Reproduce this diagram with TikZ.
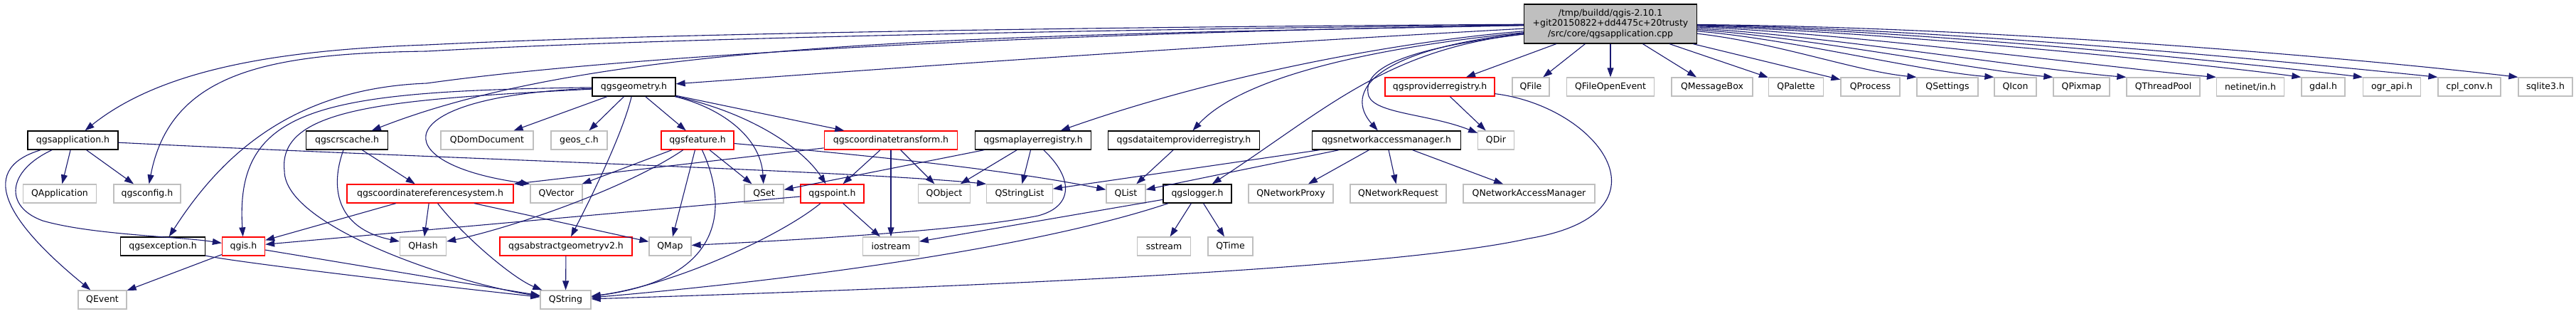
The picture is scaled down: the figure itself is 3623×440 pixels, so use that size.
\documentclass[tikz,border=0pt]{standalone}
\usepackage{fontspec}
\setmainfont{DejaVu Sans}
\usepackage{tikz}
\usetikzlibrary{arrows.meta}
\definecolor{depblue}{RGB}{25, 25, 112}
\definecolor{extgray}{RGB}{191, 191, 191}
\definecolor{srcgray}{RGB}{191, 191, 191}

\begin{document}
\begin{tikzpicture}[
        x=1pt, y=-1pt,
        hdr/.style={draw=black, fill=white, line width=1.3pt, minimum height=26pt, inner sep=0pt, font=\fontsize{12.5}{14}\selectfont},
        trunc/.style={hdr, draw=red},
        ext/.style={hdr, draw=extgray},
        srcfile/.style={hdr, fill=srcgray, minimum height=55pt, align=center, font=\fontsize{12.5}{14.7}\selectfont},
        dep/.style={draw=depblue, line width=1.1pt, -{Triangle[length=13pt,width=9pt]}}
    ]
        % Canvas
        \fill[white] (0,0) rectangle (3623,440);
        \useasboundingbox (0,0) rectangle (3623,440);

        % Source file
        \node[srcfile, minimum width=243pt] (main) at (2265,33.5) {/tmp/buildd/qgis-2.10.1\\+git20150822+dd4475c+20trusty\\/src/core/qgsapplication.cpp};

        % Rank 1
        \node[hdr, minimum width=117pt] (geometry) at (891.5,122) {qgsgeometry.h};
        \node[trunc, minimum width=154pt] (provreg) at (2025,122) {qgsproviderregistry.h};
        \node[ext, minimum width=52pt] (qfile) at (2153,122) {QFile};
        \node[ext, minimum width=123pt] (qfileopenevent) at (2265,122) {QFileOpenEvent};
        \node[ext, minimum width=114pt] (qmessagebox) at (2408,122) {QMessageBox};
        \node[ext, minimum width=77pt] (qpalette) at (2526,122) {QPalette};
        \node[ext, minimum width=83pt] (qprocess) at (2630.5,122) {QProcess};
        \node[ext, minimum width=86pt] (qsettings) at (2739,122) {QSettings};
        \node[ext, minimum width=59pt] (qicon) at (2834.5,122) {QIcon};
        \node[ext, minimum width=79pt] (qpixmap) at (2927.5,122) {QPixmap};
        \node[ext, minimum width=103pt] (qthreadpool) at (3042.5,122) {QThreadPool};
        \node[ext, minimum width=95pt] (netinet) at (3165,122) {netinet/in.h};
        \node[ext, minimum width=61pt] (gdal) at (3267.5,122) {gdal.h};
        \node[ext, minimum width=81pt] (ograpi) at (3364,122) {ogr\_api.h};
        \node[ext, minimum width=88pt] (cplconv) at (3473,122) {cpl\_conv.h};
        \node[ext, minimum width=76pt] (sqlite) at (3580,122) {sqlite3.h};

        % Rank 2
        \node[hdr, minimum width=127pt] (app) at (102.5,197) {qgsapplication.h};
        \node[hdr, minimum width=114.5pt] (crscache) at (488,197) {qgscrscache.h};
        \node[ext, minimum width=130pt] (qdomdocument) at (685,197) {QDomDocument};
        \node[ext, minimum width=79pt] (geosc) at (814.5,197) {geos\_c.h};
        \node[trunc, minimum width=102pt] (feature) at (981,197) {qgsfeature.h};
        \node[trunc, minimum width=187.5pt] (coordtransform) at (1253,197) {qgscoordinatetransform.h};
        \node[hdr, minimum width=162.5pt] (maplayerreg) at (1453,197) {qgsmaplayerregistry.h};
        \node[hdr, minimum width=213pt] (dataitemreg) at (1665,197) {qgsdataitemproviderregistry.h};
        \node[hdr, minimum width=208.5pt] (netmanager) at (1950,197) {qgsnetworkaccessmanager.h};
        \node[ext, minimum width=50.5pt] (qdir) at (2104,197) {QDir};

        % Rank 3
        \node[ext, minimum width=102.5pt] (qapplication) at (84,272) {QApplication};
        \node[ext, minimum width=94pt] (qgsconfig) at (207,272) {qgsconfig.h};
        \node[trunc, minimum width=234pt] (crs) at (605,272) {qgscoordinatereferencesystem.h};
        \node[ext, minimum width=73pt] (qvector) at (782.5,272) {QVector};
        \node[ext, minimum width=55pt] (qset) at (1074.5,272) {QSet};
        \node[trunc, minimum width=89pt] (point) at (1170.5,272) {qgspoint.h};
        \node[ext, minimum width=73.5pt] (qobject) at (1328,272) {QObject};
        \node[ext, minimum width=92.5pt] (qstringlist) at (1434,272) {QStringList};
        \node[ext, minimum width=55pt] (qlist) at (1583.5,272) {QList};
        \node[hdr, minimum width=96pt] (logger) at (1684,272) {qgslogger.h};
        \node[ext, minimum width=119pt] (qnetworkproxy) at (1815.5,272) {QNetworkProxy};
        \node[ext, minimum width=135pt] (qnetworkrequest) at (1966.5,272) {QNetworkRequest};
        \node[ext, minimum width=185pt] (qnetworkam) at (2150.5,272) {QNetworkAccessManager};

        % Rank 4
        \node[hdr, minimum width=118.5pt] (exception) at (229,346) {qgsexception.h};
        \node[trunc, minimum width=60pt] (qgis) at (342.5,346) {qgis.h};
        \node[ext, minimum width=65pt] (qhash) at (595,346) {QHash};
        \node[trunc, minimum width=186pt] (absgeometry) at (796,346) {qgsabstractgeometryv2.h};
        \node[ext, minimum width=59pt] (qmap) at (942.5,346) {QMap};
        \node[ext, minimum width=78.5pt] (iostream) at (1253,346) {iostream};
        \node[ext, minimum width=75pt] (sstream) at (1637,346) {sstream};
        \node[ext, minimum width=63pt] (qtime) at (1730.5,346) {QTime};

        % Rank 5
        \node[ext, minimum width=68pt] (qevent) at (144,421) {QEvent};
        \node[ext, minimum width=71pt] (qstring) at (795.5,421) {QString};

        % Includes of the source file
        \draw[dep] (main) .. controls (1500,38) and (900,48) .. (600,63) .. controls (400,70) and (230,95) .. (app);
        \draw[dep] (main) .. controls (1500,42) and (900,55) .. (600,72) .. controls (380,75) and (240,100) .. (qgsconfig);
        \draw[dep] (main) .. controls (1500,46) and (900,75) .. (600,117) .. controls (410,124) and (310,220) .. (exception);
        \draw[dep] (main) .. controls (1400,50) and (850,55) .. (crscache);
        \draw[dep] (main) .. controls (1600,70) and (1200,100) .. (geometry);
        \draw[dep] (main) .. controls (1950,60) and (1700,110) .. (maplayerreg);
        \draw[dep] (main) .. controls (1900,70) and (1740,115) .. (dataitemreg);
        \draw[dep] (main) .. controls (1950,70) and (1870,150) .. (logger);
        \draw[dep] (main) .. controls (1930,70) and (1890,130) .. (netmanager);
        \draw[dep] (main) .. controls (1960,70) and (1915,100) .. (1925,135) .. controls (1935,160) and (2010,160) .. (qdir);
        \draw[dep] (main) -- (provreg);
        \draw[dep] (main) -- (qfile);
        \draw[dep] (main) -- (qfileopenevent);
        \draw[dep] (main) -- (qmessagebox);
        \draw[dep] (main) -- (qpalette);
        \draw[dep] (main) -- (qprocess);
        \draw[dep] (main) .. controls (2500,60) and (2610,100) .. (qsettings.north west);
        \draw[dep] (main) .. controls (2520,55) and (2700,100) .. (qicon.north west);
        \draw[dep] (main) .. controls (2540,52) and (2790,100) .. (qpixmap.north west);
        \draw[dep] (main) .. controls (2560,49) and (2880,100) .. (qthreadpool.north west);
        \draw[dep] (main) .. controls (2600,46) and (3010,100) .. (netinet.north west);
        \draw[dep] (main) .. controls (2650,44) and (3100,90) .. (gdal.north west);
        \draw[dep] (main) .. controls (2700,42) and (3170,90) .. (ograpi.north west);
        \draw[dep] (main) .. controls (2750,40) and (3250,90) .. (cplconv.north west);
        \draw[dep] (main) .. controls (2800,38) and (3300,80) .. (sqlite.north west);

        % qgsapplication.h
        \draw[dep] (app) -- (qapplication);
        \draw[dep] (app) -- (qgsconfig);
        \draw[dep] (app) .. controls (-40,240) and (20,320) .. (qevent);
        \draw[dep] (app) .. controls (10,240) and (5,290) .. (60,310) .. controls (130,330) and (250,332) .. (qgis);
        \draw[dep] (app) .. controls (600,222) and (1200,240) .. (qstringlist.north west);

        % qgsgeometry.h
        \draw[dep] (geometry) -- (qdomdocument);
        \draw[dep] (geometry) -- (geosc);
        \draw[dep] (geometry) -- (feature);
        \draw[dep] (geometry) -- (coordtransform);
        \draw[dep] (geometry) .. controls (1010,150) and (1070,190) .. (qset);
        \draw[dep] (geometry) .. controls (1060,160) and (1130,210) .. (point);
        \draw[dep] (geometry) .. controls (875,190) and (830,280) .. (absgeometry);
        \draw[dep] (geometry) .. controls (450,128) and (330,150) .. (qgis);
        \draw[dep] (geometry) .. controls (550,140) and (390,150) .. (400,240) .. controls (400,320) and (650,400) .. (qstring);
        \draw[dep] (geometry) .. controls (540,135) and (540,230) .. (qvector.north west);

        % qgsfeature.h
        \draw[dep] (feature) -- (qvector);
        \draw[dep] (feature) .. controls (880,265) and (720,320) .. (qhash);
        \draw[dep] (feature) -- (qmap);
        \draw[dep] (feature) .. controls (1020,280) and (1030,390) .. (qstring);
        \draw[dep] (feature) -- (qset);
        \draw[dep] (feature) .. controls (1300,225) and (1450,245) .. (qlist);

        % qgscoordinatetransform.h
        \draw[dep] (coordtransform) -- (crs);
        \draw[dep] (coordtransform) -- (point);
        \draw[dep] (coordtransform) -- (qobject);
        \draw[dep] (coordtransform) -- (iostream);

        % qgsmaplayerregistry.h
        \draw[dep] (maplayerreg) -- (qobject);
        \draw[dep] (maplayerreg) -- (qstringlist);
        \draw[dep] (maplayerreg) -- (qset);
        \draw[dep] (maplayerreg) .. controls (1510,250) and (1510,290) .. (1460,303) .. controls (1350,325) and (1100,338) .. (qmap);

        % qgsdataitemproviderregistry.h
        \draw[dep] (dataitemreg) -- (qlist);

        % qgsnetworkaccessmanager.h
        \draw[dep] (netmanager) -- (qnetworkproxy);
        \draw[dep] (netmanager) -- (qnetworkrequest);
        \draw[dep] (netmanager) -- (qnetworkam);
        \draw[dep] (netmanager) -- (qlist);
        \draw[dep] (netmanager) -- (qstringlist);

        % qgsproviderregistry.h
        \draw[dep] (provreg) -- (qdir);
        \draw[dep] (provreg) .. controls (2250,150) and (2360,300) .. (2150,335) .. controls (1950,380) and (1300,405) .. (qstring);

        % qgslogger.h
        \draw[dep] (logger) -- (sstream);
        \draw[dep] (logger) -- (qtime);
        \draw[dep] (logger) -- (iostream);
        \draw[dep] (logger) .. controls (1450,350) and (1100,395) .. (qstring);

        % qgspoint.h
        \draw[dep] (point) -- (qgis);
        \draw[dep] (point) .. controls (1100,330) and (950,400) .. (qstring);
        \draw[dep] (point) -- (iostream);

        % qgscrscache.h
        \draw[dep] (crscache) -- (crs);
        \draw[dep] (crscache) .. controls (465,260) and (470,320) .. (qhash);

        % qgscoordinatereferencesystem.h
        \draw[dep] (crs) -- (qgis);
        \draw[dep] (crs) -- (qhash);
        \draw[dep] (crs) .. controls (650,330) and (720,390) .. (qstring);
        \draw[dep] (crs) -- (qmap);

        % Leaves towards QString / QEvent
        \draw[dep] (exception) .. controls (330,368) and (600,400) .. (qstring);
        \draw[dep] (qgis) -- (qevent);
        \draw[dep] (qgis) -- (qstring);
        \draw[dep] (absgeometry) -- (qstring);
    \end{tikzpicture}
\end{document}
